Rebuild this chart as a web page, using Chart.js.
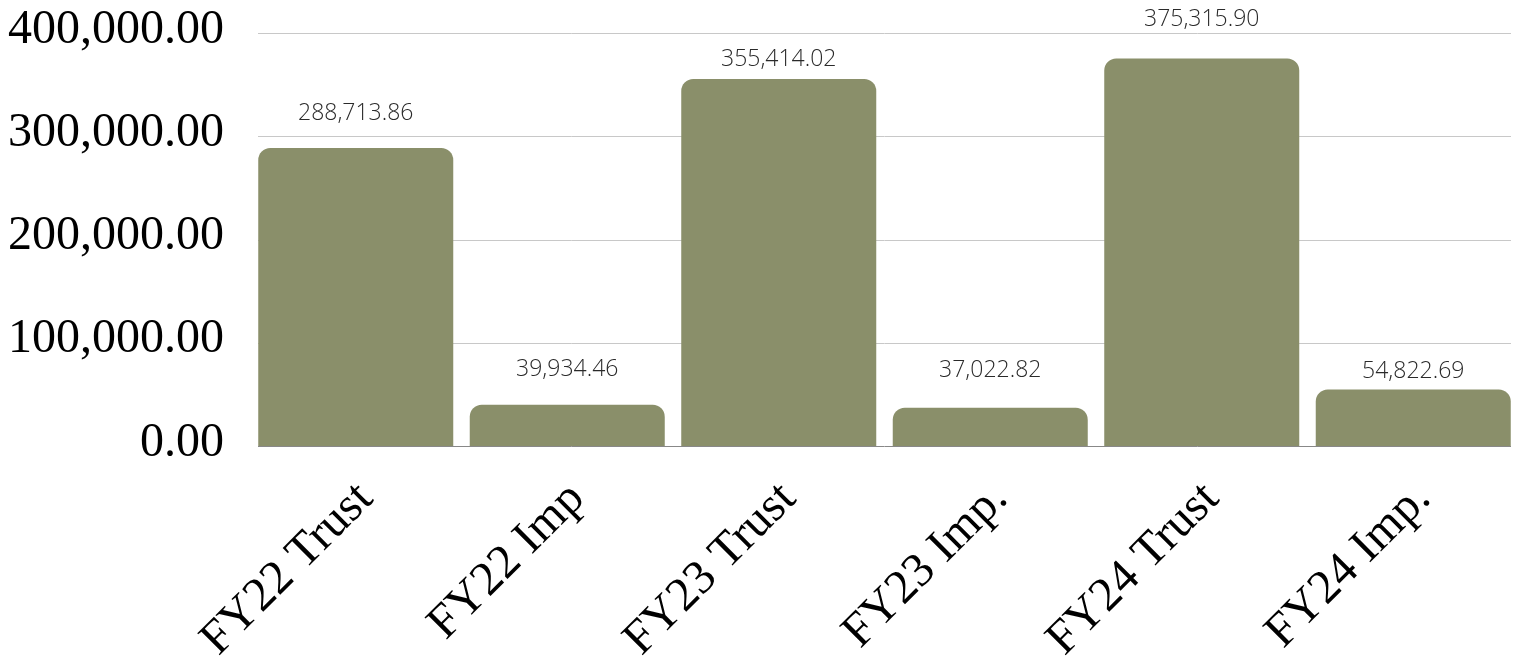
<!DOCTYPE html>
<html>
<head>
<meta charset="utf-8">
<script src="https://cdn.jsdelivr.net/npm/chart.js@4/dist/chart.umd.min.js"></script>
<style>
html,body{margin:0;padding:0;background:#fff;}
#wrap{width:1519px;height:661px;position:relative;}
</style>
</head>
<body>
<div id="wrap"><canvas id="c"></canvas></div>
<script>
const categories = ["FY22 Trust", "FY22 Imp", "FY23 Trust", "FY23 Imp.", "FY24 Trust", "FY24 Imp."];
const values = [288713.86, 39934.46, 355414.02, 37022.82, 375315.90, 54822.69];
const yTicks = [0, 100000, 200000, 300000, 400000];

// label gap above each bar top, in pixels (layout only)
const labelGaps = [34, 35, 20, 37, 39, 18];

const fmt = v => v.toLocaleString('en-US', {minimumFractionDigits: 2, maximumFractionDigits: 2});
const INSET = 8;

const gridLines = {
  id: 'gridLines',
  beforeDatasetsDraw(chart) {
    const ctx = chart.ctx, ys = chart.scales.y, a = chart.chartArea;
    ctx.save();
    ctx.lineWidth = 1;
    yTicks.forEach(t => {
      const y = Math.round(ys.getPixelForValue(t)) + 0.5;
      ctx.strokeStyle = t === 0 ? '#888888' : '#c8c8c8';
      ctx.beginPath();
      ctx.moveTo(a.left + INSET, y);
      ctx.lineTo(a.right - INSET, y);
      ctx.stroke();
    });
    ctx.restore();
  }
};

const valueLabels = {
  id: 'valueLabels',
  afterDatasetsDraw(chart) {
    const ctx = chart.ctx;
    const meta = chart.getDatasetMeta(0);
    ctx.save();
    ctx.font = '300 23px "Open Sans"';
    ctx.fillStyle = '#2a2a2a';
    ctx.textAlign = 'center';
    ctx.textBaseline = 'middle';
    meta.data.forEach((bar, i) => {
      ctx.fillText(fmt(values[i]), bar.x, bar.y - labelGaps[i]);
    });
    ctx.restore();
  }
};

new Chart(document.getElementById('c'), {
  type: 'bar',
  data: {
    labels: categories,
    datasets: [{
      data: values,
      backgroundColor: '#8A8F6A',
      borderWidth: 0,
      borderRadius: {topLeft: 12, topRight: 12, bottomLeft: 0, bottomRight: 0},
      borderSkipped: 'start',
      barPercentage: 0.922,
      categoryPercentage: 1.0
    }]
  },
  options: {
    responsive: true,
    maintainAspectRatio: false,
    animation: false,
    layout: {padding: {top: 33, right: 0, left: 0, bottom: 0}},
    plugins: {legend: {display: false}, tooltip: {enabled: false}},
    scales: {
      x: {
        grid: {display: false, drawTicks: false},
        border: {display: false},
        ticks: {
          font: {family: '"Liberation Serif", "Times New Roman", serif', size: 48},
          color: '#000000',
          maxRotation: 45,
          minRotation: 45,
          padding: 25,
          labelOffset: 10,
          autoSkip: false
        },
        afterFit: s => { s.height = 215; s.paddingLeft = 0; s.paddingRight = 0; }
      },
      y: {
        min: 0,
        max: 400000,
        afterBuildTicks: s => { s.ticks = yTicks.map(v => ({value: v})); },
        grid: {display: false, drawTicks: false},
        border: {display: false},
        ticks: {
          font: {family: '"Liberation Serif", "Times New Roman", serif', size: 48},
          color: '#000000',
          padding: 26,
          labelOffset: -3,
          callback: v => fmt(v)
        },
        afterFit: s => { s.width = 250; s.paddingTop = 0; s.paddingBottom = 0; }
      }
    }
  },
  plugins: [gridLines, valueLabels]
});
</script>
</body>
</html>
